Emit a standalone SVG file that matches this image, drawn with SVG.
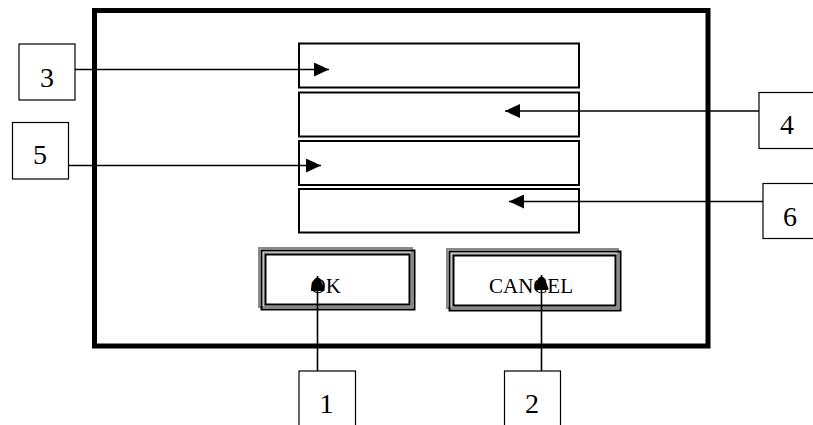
<svg xmlns="http://www.w3.org/2000/svg" width="813" height="425" viewBox="0 0 813 425">
<style>
.box{fill:#fff;stroke:#000;stroke-width:1.2}
.field{fill:#fff;stroke:#000;stroke-width:2}
.num{font-family:"Liberation Serif","Times New Roman",serif;font-size:28px;fill:#000;text-anchor:middle}
.lbl{font-family:"Liberation Serif","Times New Roman",serif;font-size:21px;fill:#000}
.conn{stroke:#000;stroke-width:1.6;fill:none}
.g1{fill:none;stroke:#8a8a8a;stroke-width:2}
.b1{fill:none;stroke:#000;stroke-width:2}
.g2{fill:none;stroke:#9a9a9a;stroke-width:1.2}
</style>
<defs>
<marker id="ah" markerUnits="userSpaceOnUse" markerWidth="16" markerHeight="14" refX="15" refY="7" orient="auto">
<path d="M0,0 L15,7 L0,14 z" fill="#000"/>
</marker>
<marker id="av" markerUnits="userSpaceOnUse" markerWidth="16" markerHeight="14" refX="15" refY="7" orient="auto">
<path d="M0,1 Q0,0 1.5,0 L12,4 Q15,7 12,10 L1.5,14 Q0,14 0,13 z" fill="#000"/>
</marker>
</defs>
<rect width="813" height="425" fill="#fff"/>
<g id="frame">
<rect x="94.5" y="10.5" width="613.5" height="335.5" fill="none" stroke="#000" stroke-width="5"/>
</g>
<g id="field1"><rect class="field" x="299" y="43.5" width="280" height="44"/></g>
<g id="field2"><rect class="field" x="299" y="92.5" width="280" height="44"/></g>
<g id="field3"><rect class="field" x="299" y="141" width="280" height="44"/></g>
<g id="field4"><rect class="field" x="299" y="189" width="280" height="43.5"/></g>
<g id="btn-ok">
<rect class="g1" x="259" y="248" width="153" height="59"/>
<rect class="b1" x="261.5" y="250.5" width="153" height="59"/>
<rect class="g2" x="264" y="253" width="146" height="52"/>
<rect class="b1" x="265.5" y="254.5" width="144" height="50" stroke-width="1.2"/>
<text class="lbl" x="310.5" y="293">OK</text>
</g>
<g id="btn-cancel">
<rect class="g1" x="447" y="249" width="171" height="59"/>
<rect class="b1" x="449.5" y="251.5" width="171" height="59"/>
<rect class="g2" x="452" y="254" width="164" height="52"/>
<rect class="b1" x="453.5" y="255.5" width="162" height="50" stroke-width="1.2"/>
<text class="lbl" x="489" y="293">CANCEL</text>
</g>
<g id="connectors">
<line class="conn" x1="75" y1="69.5" x2="329" y2="69.5" marker-end="url(#ah)"/>
<line class="conn" x1="67" y1="165.5" x2="321" y2="165.5" marker-end="url(#ah)"/>
<line class="conn" x1="759" y1="111" x2="505" y2="111" marker-end="url(#ah)"/>
<line class="conn" x1="763" y1="201.5" x2="509" y2="201.5" marker-end="url(#ah)"/>
<line class="conn" x1="317.5" y1="371" x2="317.5" y2="276" marker-end="url(#av)"/>
<line class="conn" x1="541.5" y1="371" x2="541.5" y2="275" marker-end="url(#av)"/>
</g>
<g id="n3"><rect class="box" x="19" y="44" width="56" height="56"/><text class="num" x="47" y="87">3</text></g>
<g id="n5"><rect class="box" x="12.5" y="122.5" width="56" height="56.5"/><text class="num" x="40" y="164">5</text></g>
<g id="n4"><rect class="box" x="759" y="92.5" width="70" height="56"/><text class="num" x="787" y="134">4</text></g>
<g id="n6"><rect class="box" x="763" y="183.5" width="70" height="55"/><text class="num" x="790" y="225.5">6</text></g>
<g id="n1"><rect class="box" x="299" y="371" width="56.5" height="70"/><text class="num" x="326.5" y="412.5">1</text></g>
<g id="n2"><rect class="box" x="504.5" y="371" width="56" height="70"/><text class="num" x="532" y="412.5">2</text></g>
</svg>
